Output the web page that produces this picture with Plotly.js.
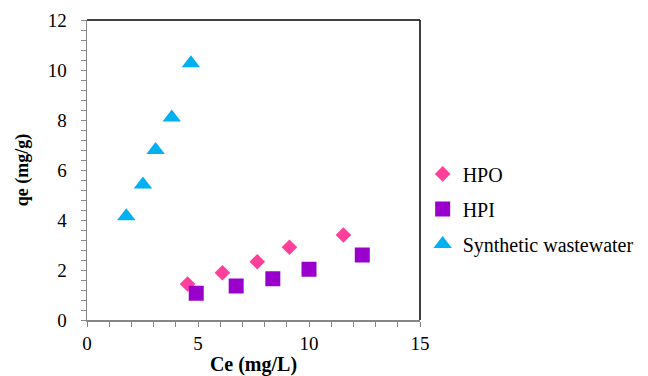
<!DOCTYPE html>
<html>
<head>
<meta charset="utf-8">
<script src="https://cdn.plot.ly/plotly-3.0.1.min.js"></script>
<style>html,body{margin:0;padding:0;background:#fff;}#chart{width:648px;height:376px;}</style>
</head>
<body>
<div id="chart"></div>
<script>
const seriesNames = ["HPO", "HPI", "Synthetic wastewater"];
const hpoCe = [4.53, 6.10, 7.67, 9.12, 11.55];
const hpoQe = [1.44, 1.89, 2.33, 2.91, 3.40];
const hpiCe = [4.92, 6.72, 8.37, 10.0, 12.4];
const hpiQe = [1.07, 1.36, 1.65, 2.03, 2.60];
const swCe = [1.77, 2.52, 3.09, 3.82, 4.68];
const swQe = [4.15, 5.42, 6.80, 8.10, 10.27];

const font = "Liberation Serif, Times New Roman, serif";

const traces = [
  {x: hpoCe, y: hpoQe, name: seriesNames[0], type: "scatter", mode: "markers", legendgroup: "a",
   marker: {symbol: "diamond", size: 12, color: "#FF3F9A"}},
  {x: hpiCe, y: hpiQe, name: seriesNames[1], type: "scatter", mode: "markers", legendgroup: "b",
   marker: {symbol: "square", size: 15, color: "#9900CC"}},
  {x: swCe, y: swQe, name: seriesNames[2], type: "scatter", mode: "markers", legendgroup: "c",
   marker: {symbol: "triangle-up", size: 16, color: "#00B0F0"}}
];

const layout = {
  width: 648, height: 376,
  margin: {l: 87, r: 228, t: 20, b: 56, autoexpand: false},
  paper_bgcolor: "#fff", plot_bgcolor: "#fff",
  font: {family: font, color: "#000", size: 19},
  showlegend: true,
  legend: {x: 1.008, xanchor: "left", y: 0.552, yanchor: "top", traceorder: "grouped",
           tracegroupgap: 6, font: {family: font, size: 20, color: "#000"}, bgcolor: "rgba(0,0,0,0)"},
  xaxis: {range: [0, 15], dtick: 5, tick0: 0, showgrid: false, zeroline: false,
          showline: true, linecolor: "#868686", linewidth: 1.5,
          ticks: "outside", ticklen: 5, tickcolor: "#868686", tickwidth: 1,
          minor: {dtick: 1, ticks: "outside", ticklen: 5, tickcolor: "#868686", showgrid: false},
          tickfont: {family: font, size: 19, color: "#000"}, ticklabelstandoff: 1,
          title: {text: "<b>Ce (mg/L)</b>", font: {family: font, size: 20, color: "#000"}, standoff: 10}},
  yaxis: {range: [0, 12], dtick: 2, tick0: 0, showgrid: false, zeroline: false,
          showline: true, linecolor: "#868686", linewidth: 1.5,
          ticks: "outside", ticklen: 5, tickcolor: "#868686", tickwidth: 1,
          minor: {dtick: 0.4, ticks: "outside", ticklen: 5, tickcolor: "#868686", showgrid: false},
          tickfont: {family: font, size: 19, color: "#000"}, ticklabelstandoff: 10,
          title: {text: "<b>qe (mg/g)</b>", font: {family: font, size: 18, color: "#000"}, standoff: 14}},
  shapes: [
    {type: "line", xref: "paper", yref: "paper", x0: 0, x1: 1, y0: 1, y1: 1, line: {color: "#000", width: 1.5}},
    {type: "line", xref: "paper", yref: "paper", x0: 1, x1: 1, y0: 0, y1: 1, line: {color: "#000", width: 1.5}}
  ]
};

Plotly.newPlot("chart", traces, layout, {displayModeBar: false, staticPlot: true});
</script>
</body>
</html>
